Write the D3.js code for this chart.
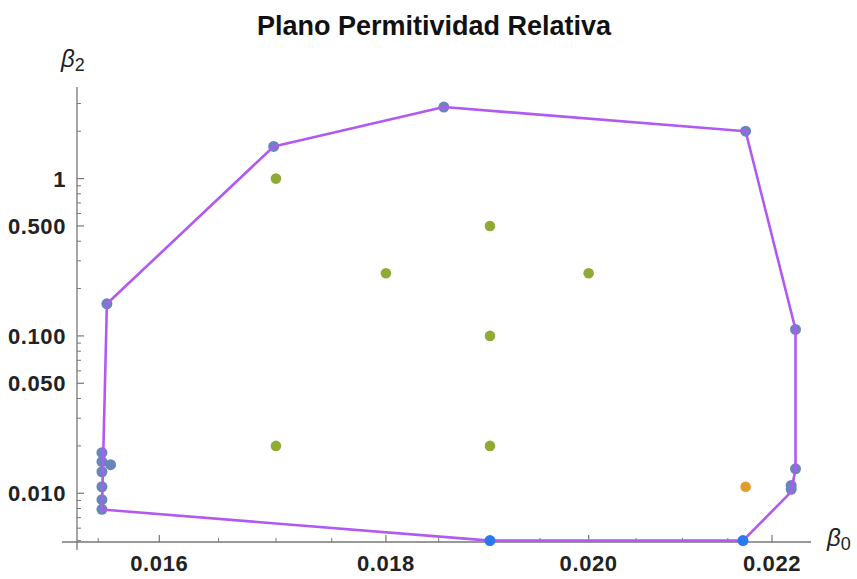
<!DOCTYPE html>
<html>
<head>
<meta charset="utf-8">
<script src="https://cdn.jsdelivr.net/npm/d3@7"></script>
<style>
  html, body { margin: 0; padding: 0; background: #fff; }
  svg { display: block; }
  text { font-family: "Liberation Sans", Arial, sans-serif; }
</style>
</head>
<body>
<svg id="chart" width="857" height="579"></svg>
<script>
// ---- Data ----
const title = "Plano Permitividad Relativa";

// Boundary polygon (beta0, beta2)
const hullB0 = [0.01553, 0.01557, 0.01698, 0.01855, 0.02170, 0.02227, 0.02227, 0.02222, 0.02167, 0.01900, 0.01553];
const hullB2 = [0.00788, 0.160,   1.60,    2.85,    2.00,    0.110,   0.0143,  0.0102,  0.0050,  0.0050,  0.00788];

// Measured points (blue-grey)
const measB0 = [0.01553, 0.01553, 0.01553, 0.01560, 0.01553, 0.01553, 0.01553, 0.01557, 0.01698, 0.01855, 0.02170, 0.02227, 0.02227, 0.02222, 0.02222];
const measB2 = [0.0181,  0.0159,  0.0137,  0.0152,  0.0110,  0.0091,  0.0079,  0.160,   1.60,    2.85,    2.00,    0.110,   0.0143,  0.0112,  0.0106];

// Grid points (green)
const gridB0 = [0.017, 0.019, 0.018, 0.020, 0.019, 0.017, 0.019];
const gridB2 = [1.0,   0.5,   0.25,  0.25,  0.1,   0.02,  0.02];

// Selected point (orange)
const selB0 = [0.0217];
const selB2 = [0.011];

// Points on the lower boundary (bright blue)
const lowB0 = [0.0190, 0.02167];
const lowB2 = [0.0050, 0.0050];

// Ticks
const xMajor = [0.016, 0.018, 0.020, 0.022];
const xMajorLabels = ["0.016", "0.018", "0.020", "0.022"];
const xMinor = [0.0155, 0.0165, 0.017, 0.0175, 0.0185, 0.019, 0.0195, 0.0205, 0.021, 0.0215];
const yMajor = [1, 0.5, 0.1, 0.05, 0.01];
const yMajorLabels = ["1", "0.500", "0.100", "0.050", "0.010"];
const yMinor = [3, 2, 0.9, 0.8, 0.7, 0.6, 0.4, 0.3, 0.2, 0.09, 0.08, 0.07, 0.06, 0.04, 0.03, 0.02, 0.009, 0.008, 0.007, 0.006, 0.005];

// ---- Scales ----
const svg = d3.select("#chart");
const x = d3.scaleLog().domain([0.01533, 0.02245]).range([77, 811]);
const y = d3.scaleLog().domain([0.0049, 3.82]).range([542, 87]);

const axisColor = "#777";
const labelColor = "#222";

// Title
svg.append("text")
  .attr("x", 434).attr("y", 35)
  .attr("text-anchor", "middle")
  .attr("font-size", 27).attr("font-weight", "bold")
  .attr("fill", "#111")
  .text(title);

// Axes lines
const ax = svg.append("g");
ax.append("line").attr("x1", 62).attr("x2", 811).attr("y1", 542).attr("y2", 542)
  .attr("stroke", axisColor).attr("stroke-width", 1.3);
ax.append("line").attr("x1", 77).attr("x2", 77).attr("y1", 87).attr("y2", 550)
  .attr("stroke", axisColor).attr("stroke-width", 1.3);

// X ticks
ax.selectAll(".xmaj").data(xMajor).join("line")
  .attr("x1", d => x(d)).attr("x2", d => x(d))
  .attr("y1", 542).attr("y2", 535)
  .attr("stroke", axisColor).attr("stroke-width", 1.2);
ax.selectAll(".xmin").data(xMinor).join("line")
  .attr("x1", d => x(d)).attr("x2", d => x(d))
  .attr("y1", 542).attr("y2", 538)
  .attr("stroke", axisColor).attr("stroke-width", 1);
ax.selectAll(".xlab").data(xMajor).join("text")
  .attr("x", d => x(d)).attr("y", 571)
  .attr("text-anchor", "middle")
  .attr("font-size", 22).attr("font-weight", "bold")
  .attr("letter-spacing", 0.6)
  .attr("fill", labelColor)
  .text((d, i) => xMajorLabels[i]);

// Y ticks
ax.selectAll(".ymaj").data(yMajor).join("line")
  .attr("x1", 77).attr("x2", 84)
  .attr("y1", d => y(d)).attr("y2", d => y(d))
  .attr("stroke", axisColor).attr("stroke-width", 1.2);
ax.selectAll(".ymin").data(yMinor).join("line")
  .attr("x1", 77).attr("x2", 81)
  .attr("y1", d => y(d)).attr("y2", d => y(d))
  .attr("stroke", axisColor).attr("stroke-width", 1);
ax.selectAll(".ylab").data(yMajor).join("text")
  .attr("x", 66).attr("y", d => y(d) + 8)
  .attr("text-anchor", "end")
  .attr("font-size", 22).attr("font-weight", "bold")
  .attr("letter-spacing", 0.6)
  .attr("fill", labelColor)
  .text((d, i) => yMajorLabels[i]);

// Axis labels
const yl = svg.append("text").attr("x", 61).attr("y", 67).attr("fill", labelColor);
yl.append("tspan").attr("font-size", 24).attr("font-style", "italic").text("β");
yl.append("tspan").attr("font-size", 18).attr("dy", 4).text("2");
const xl = svg.append("text").attr("x", 827).attr("y", 546).attr("fill", labelColor);
xl.append("tspan").attr("font-size", 24).attr("font-style", "italic").text("β");
xl.append("tspan").attr("font-size", 18).attr("dy", 4).text("0");

// Measured points
svg.append("g").selectAll("circle").data(measB0).join("circle")
  .attr("cx", d => x(d)).attr("cy", (d, i) => y(measB2[i]))
  .attr("r", 5.5).attr("fill", "#6786bd");

// Grid points
svg.append("g").selectAll("circle").data(gridB0).join("circle")
  .attr("cx", d => x(d)).attr("cy", (d, i) => y(gridB2[i]))
  .attr("r", 5.3).attr("fill", "#8fab35");

// Selected
svg.append("g").selectAll("circle").data(selB0).join("circle")
  .attr("cx", d => x(d)).attr("cy", (d, i) => y(selB2[i]))
  .attr("r", 5.3).attr("fill", "#e39d2b");

// Boundary line
const line = d3.line().x(d => x(d[0])).y(d => y(d[1]));
svg.append("path")
  .attr("d", line(hullB0.map((b, i) => [b, hullB2[i]])))
  .attr("fill", "none").attr("stroke", "#b05af2").attr("stroke-width", 2.6)
  .attr("stroke-linejoin", "round");

// Lower boundary points
svg.append("g").selectAll("circle").data(lowB0).join("circle")
  .attr("cx", d => x(d)).attr("cy", (d, i) => y(lowB2[i]))
  .attr("r", 5.5).attr("fill", "#2a78f0");
</script>
</body>
</html>
